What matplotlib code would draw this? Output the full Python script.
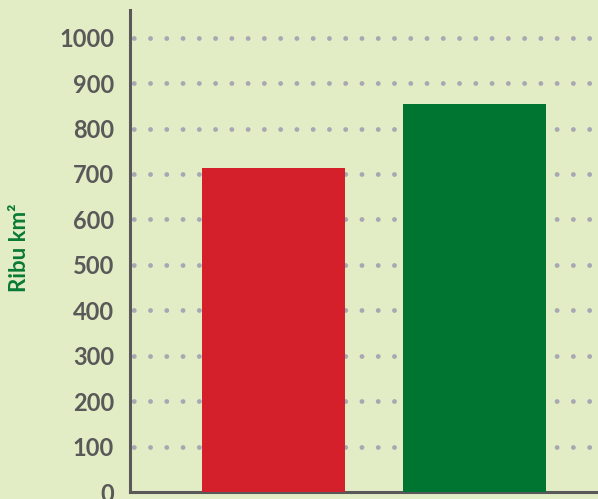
import matplotlib

matplotlib.use("Agg")
import matplotlib.pyplot as plt
import numpy as np

# data
categories = ["A", "B"]
values = [714, 855]
bar_colors = ["#d4202a", "#007532"]
yticks = list(range(0, 1001, 100))

plt.rcParams["font.family"] = ["Lato", "DejaVu Sans"]
plt.rcParams["lines.scale_dashes"] = False

bg = "#e3edc5"
fig = plt.figure(figsize=(5.98, 4.99), dpi=100, facecolor=bg)
ax = fig.add_axes([129.5 / 598, 7 / 499, 1 - 129.5 / 598, 482 / 499])
ax.set_facecolor(bg)

x = np.arange(len(categories))
ax.bar(x, values, width=0.711, color=bar_colors, zorder=3)

ax.set_xlim(-0.716, 1.614)
ax.set_ylim(0, 1061)
ax.set_yticks(yticks)
ax.set_yticklabels([str(t) for t in yticks], fontsize=17, fontweight="bold",
                   color="#595959")
ax.tick_params(axis="y", length=0, pad=11)
ax.set_xticks([])

# dotted grid: tiny dashes with round caps give dots
ax.set_axisbelow(True)
for t in yticks[1:]:
    ax.axhline(t, color="#a7a8b2", linewidth=3.5,
               linestyle=(9.0, (0.01, 11.7)), dash_capstyle="round", zorder=0)

for side in ["top", "right"]:
    ax.spines[side].set_visible(False)
for side in ["left", "bottom"]:
    ax.spines[side].set_color("#595959")
    ax.spines[side].set_linewidth(2.2)

fig.text(20 / 598, 251 / 499, "Ribu km²", rotation=90, ha="center",
         va="center", fontsize=16, fontweight="bold", color="#0a7a35")

fig.savefig("out.png", dpi=100, facecolor=bg)
